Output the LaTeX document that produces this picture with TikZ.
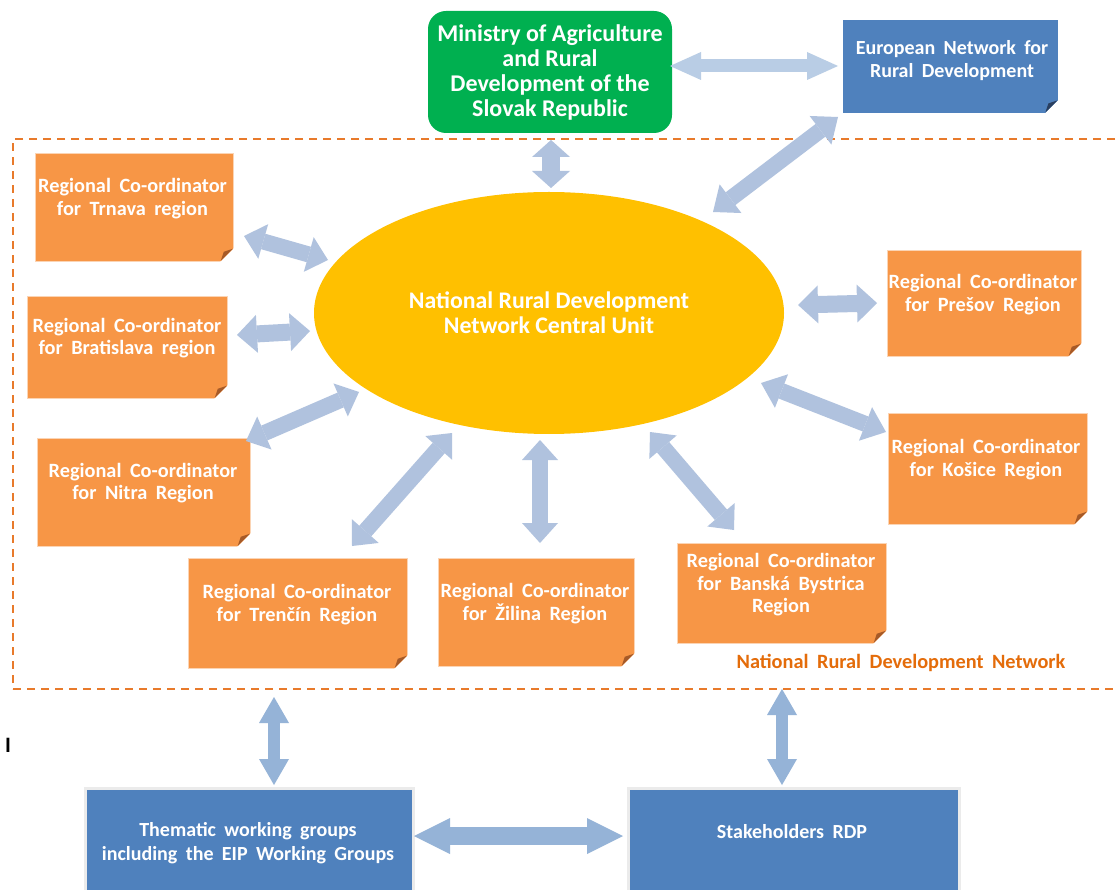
\documentclass[tikz,border=0pt]{standalone}
\usepackage{fontspec}
\setmainfont{Carlito}
\usetikzlibrary{arrows.meta,calc,shapes.geometric}
\definecolor{orgfill}{HTML}{F79646}
\definecolor{orgedge}{HTML}{FBD4B4}
\definecolor{foldbr}{HTML}{A65A28}
\definecolor{bluefill}{HTML}{4F81BD}
\definecolor{foldbl}{HTML}{2A3F5F}
\definecolor{greenfill}{HTML}{00B050}
\definecolor{ellc}{HTML}{FFC000}
\definecolor{framec}{HTML}{E87A2B}
\definecolor{labc}{HTML}{E46C0A}
\definecolor{arrc}{HTML}{B0C2DE}
\definecolor{arrtop}{HTML}{B9CDE5}
\definecolor{arrbot}{HTML}{95B3D7}
\newcommand\myfs[2]{\fontsize{#1}{#2}\selectfont}
\newcommand\wsp{\spaceskip=0.42em plus 0.1em\relax}
\newcommand\foldc[2]{%
  \fill[white] ($(#1.south east)+(0.6,-14)$) -- ($(#1.south east)+(0.6,0.6)$) -- ($(#1.south east)+(-14,0.6)$) -- cycle;
  \fill[#2] ($(#1.south east)+(-1,-13)$) -- ($(#1.south east)+(-13,-1)$) -- ($(#1.south east)+(-10,-10)$) -- cycle;
}
\tikzset{
  obox/.style={fill=orgfill, draw=orgedge, line width=0.8pt, inner sep=0, anchor=north west},
  otxt/.style={text=white, font=\bfseries\myfs{20.3}{22.5}\wsp, align=center, inner sep=0},
  bbox/.style={fill=bluefill, inner sep=0, anchor=north west},
  btxt/.style={text=white, font=\bfseries\myfs{20}{24}\wsp, align=center, inner sep=0},
  darr/.style n args={4}{draw=#1, line width=#2, {Triangle[width=#3,length=#4,line width=0pt]}-{Triangle[width=#3,length=#4,line width=0pt]}}
}
\begin{document}
\begin{tikzpicture}[x=1pt,y=-1pt]
\useasboundingbox (0,0) rectangle (1119,890);
\fill[white] (0,0) rectangle (1119,890);

% frame of the network
\node[draw=framec, line width=2.4pt, dash pattern=on 8pt off 6pt, inner sep=0, anchor=north west,
      minimum width=1130, minimum height=550] (frame) at (12,138) {};
\node[text=labc, font=\bfseries\myfs{20.3}{22}\wsp, inner sep=0] (nrdn) at (901,663) {National Rural Development Network};

% ministry
\node[fill=greenfill, rounded corners=18pt, minimum width=244, minimum height=122, inner sep=0,
      text=white, font=\bfseries\myfs{24}{25}, align=center] (min) at (550,72)
      {Ministry of Agriculture\\and Rural\\Development of the\\Slovak Republic};

% european network
\node[bbox, minimum width=215, minimum height=93] (eur) at (843,20) {};
\foldc{eur}{foldbl}
\node[btxt, font=\bfseries\myfs{20}{23}\wsp] (eurT) at (952,60.5) {European Network for\\Rural Development};

% central unit
\node[ellipse, fill=ellc, minimum width=470, minimum height=242, inner sep=0, text=white,
      font=\bfseries\myfs{23.8}{25}, align=center] (nu) at (549,313)
      {National Rural Development\\Network Central Unit};

% regional coordinators
\node[obox, minimum width=198, minimum height=108] (trn) at (35,153) {};
\foldc{trn}{foldbr}
\node[otxt] (trnT) at (132.5,198.5) {Regional Co-ordinator\\for Trnava region};

\node[obox, minimum width=200, minimum height=102] (bra) at (27,296) {};
\foldc{bra}{foldbr}
\node[otxt] (braT) at (127,338) {Regional Co-ordinator\\for Bratislava region};

\node[obox, minimum width=213, minimum height=108] (nit) at (37,438) {};
\foldc{nit}{foldbr}
\node[otxt] (nitT) at (143,483) {Regional Co-ordinator\\for Nitra Region};

\node[obox, minimum width=219, minimum height=110] (tre) at (188,558) {};
\foldc{tre}{foldbr}
\node[otxt] (treT) at (297,604.5) {Regional Co-ordinator\\for Trenčín Region};

\node[obox, minimum width=196, minimum height=108] (zil) at (438,558) {};
\foldc{zil}{foldbr}
\node[otxt] (zilT) at (535,603.5) {Regional Co-ordinator\\for Žilina Region};

\node[obox, minimum width=209, minimum height=100] (ban) at (677,543) {};
\foldc{ban}{foldbr}
\node[otxt] (banT) at (781,585) {Regional Co-ordinator\\for Banská Bystrica\\Region};

\node[obox, minimum width=194, minimum height=106] (pre) at (887,250) {};
\foldc{pre}{foldbr}
\node[otxt] (preT) at (983,294.5) {Regional Co-ordinator\\for Prešov Region};

\node[obox, minimum width=199, minimum height=111] (kos) at (888,413) {};
\foldc{kos}{foldbr}
\node[otxt] (kosT) at (986,459.5) {Regional Co-ordinator\\for Košice Region};

% bottom boxes
\node[bbox, draw=black!8, line width=3pt, minimum width=328, minimum height=112] (thm) at (84,787) {};
\node[btxt] (thmT) at (248,843.5) {Thematic working groups\\including the EIP Working Groups};
\node[bbox, draw=black!8, line width=3pt, minimum width=331, minimum height=112] (stk) at (627,787) {};
\node[btxt] (stkT) at (792,831.5) {Stakeholders RDP};

% stray mark
\node[font=\bfseries\myfs{22}{24}, inner sep=0] (mark) at (8,745) {I};

% arrow end points
\coordinate (me1) at (670,66);  \coordinate (me2) at (838,66);
\coordinate (mn1) at (551,140); \coordinate (mn2) at (551,188);
\coordinate (en1) at (838,117); \coordinate (en2) at (713,212);
\coordinate (tr1) at (244,236); \coordinate (tr2) at (328,260);
\coordinate (bz1) at (237,335); \coordinate (bz2) at (310,331);
\coordinate (ni1) at (246,441); \coordinate (ni2) at (359,392);
\coordinate (te1) at (352,546); \coordinate (te2) at (452,433);
\coordinate (zi1) at (540,543); \coordinate (zi2) at (540,440);
\coordinate (ba1) at (734,530); \coordinate (ba2) at (650,432);
\coordinate (pr1) at (877,303); \coordinate (pr2) at (798,305);
\coordinate (ko1) at (886,432); \coordinate (ko2) at (761,383);
\coordinate (bl1) at (274,697); \coordinate (bl2) at (274,785);
\coordinate (bv1) at (782,689); \coordinate (bv2) at (782,785);
\coordinate (bh1) at (414,836); \coordinate (bh2) at (623,836);

% arrows
\draw[darr={arrtop}{13pt}{28pt}{31pt}] (me1) -- (me2);
\draw[darr={arrc}{18pt}{38pt}{17pt}] (mn1) -- (mn2);
\draw[darr={arrc}{16pt}{36pt}{22pt}] (en1) -- (en2);
\draw[darr={arrc}{16pt}{36pt}{20pt}] (tr1) -- (tr2);
\draw[darr={arrc}{17pt}{38pt}{20pt}] (bz1) -- (bz2);
\draw[darr={arrc}{16pt}{36pt}{20pt}] (ni1) -- (ni2);
\draw[darr={arrc}{16pt}{36pt}{20pt}] (te1) -- (te2);
\draw[darr={arrc}{16pt}{36pt}{20pt}] (zi1) -- (zi2);
\draw[darr={arrc}{16pt}{36pt}{20pt}] (ba1) -- (ba2);
\draw[darr={arrc}{17pt}{38pt}{20pt}] (pr1) -- (pr2);
\draw[darr={arrc}{16pt}{36pt}{22pt}] (ko1) -- (ko2);
\draw[darr={arrbot}{12pt}{30pt}{26pt}] (bl1) -- (bl2);
\draw[darr={arrbot}{12pt}{30pt}{26pt}] (bv1) -- (bv2);
\draw[darr={arrbot}{18pt}{36pt}{36pt}] (bh1) -- (bh2);
\end{tikzpicture}
\end{document}
